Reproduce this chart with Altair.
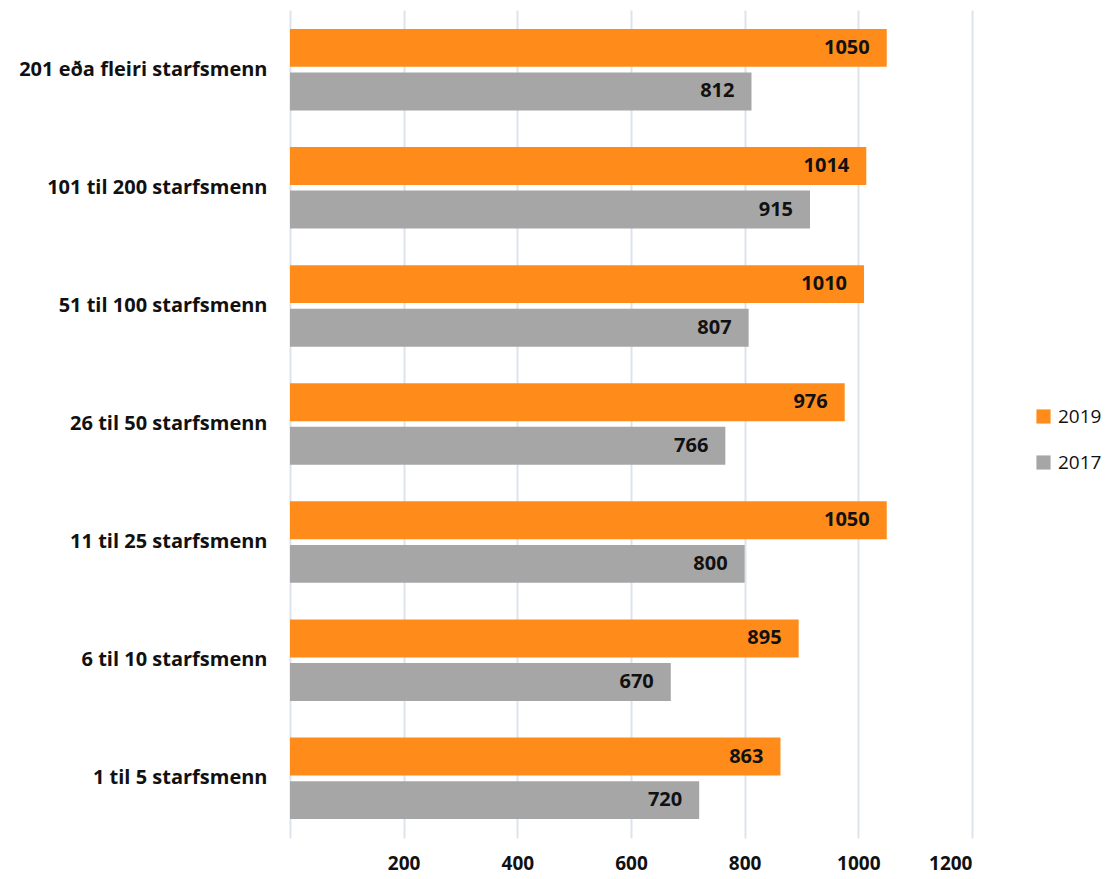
import altair as alt
import pandas as pd

categories = ["201 eða fleiri starfsmenn", "101 til 200 starfsmenn", "51 til 100 starfsmenn",
              "26 til 50 starfsmenn", "11 til 25 starfsmenn", "6 til 10 starfsmenn", "1 til 5 starfsmenn"]
values_2019 = [1050, 1014, 1010, 976, 1050, 895, 863]
values_2017 = [812, 915, 807, 766, 800, 670, 720]
years = ["2019", "2017"]
colors = ["#FF8C1A", "#A6A6A6"]

rows = []
for c, a, b in zip(categories, values_2019, values_2017):
    rows.append({"cat": c, "year": "2019", "val": a})
    rows.append({"cat": c, "year": "2017", "val": b})
df = pd.DataFrame(rows)

FONT = "Open Sans"

y = alt.Y("cat:N", sort=categories, title=None,
          scale=alt.Scale(paddingInner=0.31, paddingOuter=0.16),
          axis=alt.Axis(labelFont=FONT, labelFontWeight="bold", labelFontSize=20,
                        labelColor="#111111", labelPadding=23, ticks=False, domain=False,
                        grid=False, labelLimit=400))
x = alt.X("val:Q", title=None,
          scale=alt.Scale(domain=[0, 1200], nice=False),
          axis=alt.Axis(values=[0, 200, 400, 600, 800, 1000, 1200], format="d",
                        labelExpr="datum.value == 0 ? '' : datum.label",
                        labelFont=FONT, labelFontWeight="bold", labelFontSize=19,
                        labelColor="#111111", labelPadding=16, ticks=False, domain=False,
                        grid=True, gridColor="#DDE3EC", gridWidth=2))
yoff = alt.YOffset("year:N", sort=years, scale=alt.Scale(paddingInner=0.13))

bars = alt.Chart(df).mark_bar().encode(
    x=x, y=y, yOffset=yoff,
    color=alt.Color("year:N", sort=years,
                    scale=alt.Scale(domain=years, range=colors),
                    legend=alt.Legend(title=None, orient="none", legendX=744, legendY=397,
                                      symbolType="square", symbolSize=200, symbolStrokeWidth=0,
                                      labelFont=FONT, labelFontSize=19, labelColor="#111111",
                                      rowPadding=26, labelOffset=5)),
)

text = alt.Chart(df).mark_text(align="right", baseline="middle", dx=-17,
                               font=FONT, fontWeight="bold", fontSize=20, color="#111111").encode(
    x="val:Q", y=alt.Y("cat:N", sort=categories), yOffset=alt.YOffset("year:N", sort=years),
    text=alt.Text("val:Q", format="d"),
)

chart = (bars + text).properties(width=682, height=828).configure_view(stroke=None).properties(
    padding={"left": 10, "top": 2, "right": 0, "bottom": 3})

chart.save("out.html", embed_options={"renderer": "svg", "actions": False})
